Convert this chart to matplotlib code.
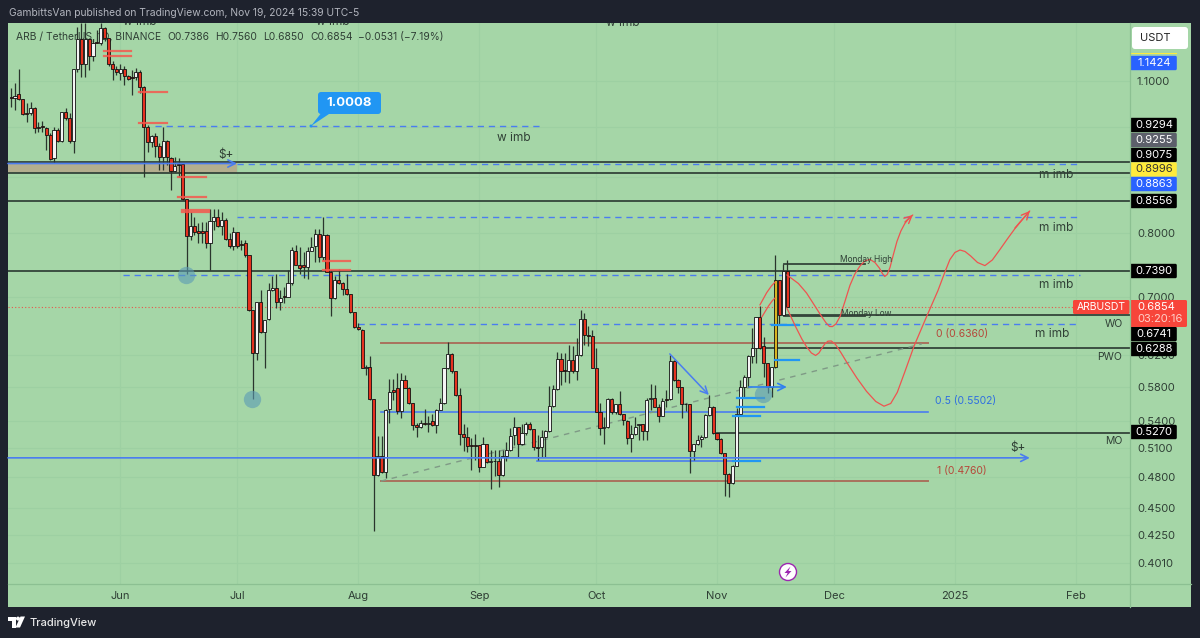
import numpy as np
import matplotlib
matplotlib.use("Agg")
import matplotlib.pyplot as plt
from matplotlib.patches import Rectangle, FancyBboxPatch, Polygon, Circle
from matplotlib.path import Path

plt.rcParams['font.family'] = ['Inter', 'DejaVu Sans']

# Daily candles, last one is Nov 19 2024
opens = [1.063,1.061,1.070,1.059,1.029,1.029,1.039,.999,1.001,.996,
         .982,.936,.992,.971,1.031,1.018,.971,1.127,1.200,1.141,
         1.200,1.158,1.193,1.190,1.228,1.204,1.141,1.127,1.118,1.129,
         1.111,1.109,1.109,1.122,1.087,.999,.968,.980,.960,.938,
         .971,.936,.911,.924,.924,.860,.795,.812,.803,.803,
         .803,.784,.820,.827,.812,.822,.791,.778,.802,.782,
         .783,.764,.681,.622,.692,.650,.668,.710,.713,.692,
         .702,.700,.721,.770,.748,.748,.745,.770,.778,.799,
         .761,.797,.738,.698,.725,.721,.711,.704,.678,.657,
         .653,.603,.605,.565,.482,.502,.485,.554,.576,.578,
         .551,.588,.579,.561,.535,.533,.538,.537,.540,.535,
         .553,.561,.603,.621,.599,.570,.525,.522,.513,.513,
         .513,.490,.515,.495,.496,.497,.482,.502,.508,.524,
         .533,.515,.526,.536,.531,.511,.511,.522,.529,.557,
         .577,.615,.601,.599,.613,.599,.620,.668,.647,.645,
         .603,.550,.532,.533,.565,.550,.559,.548,.540,.521,
         .525,.535,.537,.529,.565,.566,.556,.546,.565,.565,
         .612,.588,.580,.560,.560,.507,.514,.520,.522,.547,
         .556,.526,.520,.505,.483,.474,.491,.548,.580,.592,
         .618,.629,.671,.631,.610,.580,.605,.7245,.674,.7386]
highs = [1.083,1.096,1.129,1.059,1.050,1.052,1.041,1.010,1.012,.999,
         .986,.999,.996,1.031,1.039,1.029,1.127,1.232,1.242,1.242,
         1.204,1.202,1.224,1.242,1.232,1.204,1.146,1.134,1.141,1.134,
         1.114,1.125,1.131,1.125,1.089,1.003,.982,.986,.966,.999,
         .973,.938,.938,.936,.926,.860,.836,.827,.817,.819,
         .819,.841,.841,.841,.836,.825,.800,.810,.802,.789,
         .789,.764,.681,.692,.710,.667,.721,.732,.735,.710,
         .714,.740,.777,.780,.777,.769,.777,.794,.807,.807,
         .827,.799,.740,.732,.742,.722,.735,.704,.678,.663,
         .654,.607,.618,.565,.523,.523,.554,.590,.590,.597,
         .597,.594,.580,.561,.538,.541,.554,.546,.548,.554,
         .567,.603,.637,.622,.599,.578,.537,.533,.521,.525,
         .513,.522,.515,.508,.508,.508,.508,.517,.532,.544,
         .533,.537,.539,.539,.531,.524,.530,.530,.581,.582,
         .624,.622,.622,.633,.632,.642,.681,.677,.659,.653,
         .629,.561,.544,.567,.567,.560,.575,.548,.541,.535,
         .544,.537,.537,.566,.583,.582,.560,.567,.576,.620,
         .613,.589,.580,.561,.560,.515,.524,.524,.548,.570,
         .557,.527,.521,.505,.484,.492,.555,.588,.594,.620,
         .656,.671,.687,.644,.610,.605,.764,.7245,.750,.7560]
lows = [1.041,1.035,1.057,1.024,1.009,1.024,.986,.988,.988,.952,
        .932,.926,.968,.968,1.014,.966,.946,1.122,1.109,1.109,
        1.125,1.148,1.190,1.187,1.197,1.136,1.102,1.114,1.102,1.091,
        1.102,1.068,1.102,1.072,.899,.948,.958,.938,.913,.913,
        .922,.876,.909,.899,.858,.735,.789,.797,.784,.784,
        .776,.740,.805,.810,.797,.789,.776,.772,.776,.772,
        .761,.679,.565,.614,.649,.603,.667,.708,.684,.681,
        .691,.700,.717,.748,.735,.728,.727,.770,.753,.753,
        .756,.737,.673,.697,.719,.703,.703,.677,.656,.653,
        .603,.594,.564,.429,.481,.484,.479,.538,.564,.548,
        .543,.578,.560,.530,.522,.532,.535,.528,.534,.527,
        .552,.560,.602,.597,.569,.513,.507,.506,.487,.498,
        .485,.490,.494,.468,.481,.470,.481,.496,.507,.513,
        .501,.513,.524,.530,.508,.498,.501,.501,.528,.556,
        .576,.582,.586,.584,.597,.588,.619,.633,.632,.603,
        .550,.524,.515,.532,.548,.548,.547,.535,.515,.506,
        .524,.519,.519,.519,.552,.556,.539,.545,.556,.564,
        .587,.572,.543,.551,.484,.498,.513,.511,.521,.546,
        .525,.519,.504,.461,.460,.473,.491,.546,.567,.580,
        .609,.609,.628,.592,.572,.568,.603,.660,.674,.6850]
closes = [1.061,1.065,1.059,1.026,1.026,1.039,.996,.996,.999,.982,
          .934,.992,.971,1.031,1.018,.971,1.127,1.200,1.141,1.200,
          1.158,1.190,1.190,1.228,1.204,1.141,1.127,1.120,1.129,1.111,
          1.104,1.107,1.122,1.087,.999,.968,.980,.960,.938,.971,
          .938,.911,.920,.922,.860,.795,.812,.802,.801,.801,
          .784,.820,.827,.812,.822,.791,.778,.802,.778,.780,
          .764,.681,.622,.692,.650,.667,.710,.713,.692,.699,
          .700,.721,.772,.748,.743,.746,.770,.777,.799,.761,
          .797,.738,.698,.725,.721,.711,.704,.678,.657,.654,
          .603,.605,.565,.482,.502,.485,.553,.574,.574,.551,
          .588,.578,.561,.535,.533,.538,.537,.538,.535,.552,
          .561,.603,.621,.599,.570,.525,.522,.512,.512,.512,
          .490,.515,.495,.496,.497,.482,.502,.508,.523,.533,
          .515,.526,.536,.531,.511,.510,.522,.529,.557,.577,
          .615,.600,.600,.613,.599,.620,.668,.647,.645,.603,
          .550,.532,.533,.565,.550,.559,.548,.541,.521,.525,
          .533,.536,.529,.564,.566,.556,.546,.563,.564,.612,
          .588,.580,.559,.559,.507,.514,.519,.522,.547,.556,
          .526,.520,.505,.483,.474,.491,.548,.580,.592,.618,
          .629,.671,.629,.610,.580,.605,.7245,.674,.7386,.6854]
first_day = -28          # days relative to Jun 1
yellow_day = 168

month_days = [0, 30, 61, 92, 122, 153, 183, 214, 245]
month_labels = ['Jun', 'Jul', 'Aug', 'Sep', 'Oct', 'Nov', 'Dec', '2025', 'Feb']
price_ticks = [1.1, 1.0, 0.9, 0.8, 0.7, 0.62, 0.58, 0.54, 0.51, 0.48, 0.45, 0.425, 0.401]
price_labels = ['1.1000', '', '', '0.8000', '0.7000', '0.6200', '0.5800', '0.5400',
                '0.5100', '0.4800', '0.4500', '0.4250', '0.4010']

# horizontal levels: price, start day, end day
day_left, day_right = -28.8, 258.9
dark_levels = [(.9294, day_left, day_right), (.9075, day_left, day_right),
               (.8556, day_left, day_right), (.7390, day_left, day_right),
               (.6741, 170.1, day_right), (.6288, 164.8, day_right), (.5270, 153, day_right),
               (.750, 170.1, 190.9), (.672, 170.1, 190.9)]
dashed_levels = [(1.0008, 8.9, 107.6), (.9255, 29.9, 246), (.8275, 29.9, 246),
                 (.733, 0.7, 246), (.662, 60.9, 246)]
fib_levels = [(.6360, 66.8, 207.1), (.4760, 66.8, 207.1)]
blue_levels = [(.5502, 66.8, 207.1), (.4969, 106.8, 164)]
blue_arrows = [(.9255, day_left, 29.9), (.4998, day_left, 233.2)]
red_marks = [(1.171, -4.2, 2.7), (1.158, -4.2, 2.7), (1.075, 4.8, 11.9), (1.008, 4.8, 11.9),
             (.900, 14.8, 21.9), (.862, 14.8, 21.9), (.840, 15.8, 22.7), (.836, 15.8, 22.7),
             (.755, 52, 58.9), (.741, 52, 58.9)]
short_blue = [(.660, 167, 174), (.6135, 168, 174), (.5666, 158, 165), (.556, 158, 165),
              (.5456, 157, 164), (.4965, 157, 164)]
circle_days = [16.8, 33.7, 164.8]
circle_prices = [.7335, .5655, .5713]

# hand drawn projection paths
path_a_days = [170.9, 174.3, 177.6, 181.2, 182.5, 184.5, 187.1, 189.6, 192.2, 194.8, 196, 197.3, 199.1, 201.2, 203.2]
path_a_prices = [.733, .7207, .6913, .660, .656, .667, .7207, .7484, .761, .7437, .7268, .7406, .7886, .8189, .831]
path_b_days = [170.9, 173.5, 176, 178.4, 179.9, 181.4, 183.2, 186.3, 191.4, 196, 199.1, 203.2, 210.2, 212.7,
               215.3, 217.9, 221.7, 225.5, 229.4, 233.2]
path_b_prices = [.684, .6532, .6291, .616, .6291, .6397, .637, .6097, .5725, .5525, .5677, .6304, .7147, .761,
                 .7755, .7642, .7406, .7723, .8086, .838]
arc_c_days = [164, 166, 167.9]
arc_c_prices = [.6883, .7103, .7222]
arc_d_days = [164.5, 166.6, 167.9]
arc_d_prices = [.6712, .6913, .6985]

GREEN = '#a5d6a7'
DARK = '#1e222d'
LINE = '#33443a'
TXT = '#2f3f35'
BLUE = '#2962ff'
LBLUE = '#4a7df0'
RED = '#ef5350'
W, H = 1200, 638


def smooth_curve(ax, days, prices, color, lw=0.9):
    # quadratic segments through the midpoints, keeps the drawn look
    xs, ys = np.array(days, float), np.log(np.array(prices, float))
    verts = [(xs[0], ys[0])]
    codes = [Path.MOVETO]
    for i in range(1, len(xs) - 1):
        verts += [(xs[i], ys[i]), ((xs[i] + xs[i + 1]) / 2, (ys[i] + ys[i + 1]) / 2)]
        codes += [Path.CURVE3, Path.CURVE3]
    verts.append((xs[-1], ys[-1]))
    codes.append(Path.LINETO)
    # bezier control points stay straight only in log space, so flatten it there
    poly = Path(verts, codes).to_polygons(closed_only=False)[0]
    ax.plot(poly[:, 0], np.exp(poly[:, 1]), color=color, lw=lw, zorder=4, solid_capstyle='round')


def arrow(ax, x0, y0, x1, y1, color, lw=1.0, size=13):
    ax.annotate('', xy=(x1, y1), xytext=(x0, y0), zorder=4,
                arrowprops=dict(arrowstyle='->', color=color, lw=lw, mutation_scale=size,
                                shrinkA=0, shrinkB=0))


fig = plt.figure(figsize=(W / 100, H / 100), dpi=100, facecolor=DARK)
fig.add_artist(Rectangle((8 / W, 1 - 607 / H), (1191 - 8) / W, (607 - 23) / H, transform=fig.transFigure,
                         facecolor=GREEN, edgecolor='none', zorder=-1))
ax = fig.add_axes([8 / W, 1 - 584 / H, (1130 - 8) / W, (584 - 23) / H], facecolor='none')
ov = fig.add_axes([0, 0, 1, 1], facecolor='none', zorder=5)
ov.set_xlim(0, W)
ov.set_ylim(H, 0)
ov.axis('off')

ax.set_yscale('log')
ax.set_ylim(0.3838, 1.242)
ax.set_xlim(day_left, day_right)
ax.minorticks_off()
ax.yaxis.tick_right()
ax.set_yticks(price_ticks)
ax.set_yticklabels(price_labels)
ax.set_xticks(month_days)
ax.set_xticklabels(month_labels)
ax.tick_params(axis='both', which='both', length=0, labelsize=8, labelcolor=TXT)
ax.tick_params(axis='y', pad=5)
ax.tick_params(axis='x', pad=5)
ax.grid(True, color='#9dd0a2', lw=0.8)
ax.set_axisbelow(True)
for s in ax.spines.values():
    s.set_visible(False)

# levels
for p, a, b in dashed_levels:
    ax.plot([a, b], [p, p], color=LBLUE, lw=1.0, dashes=(4.5, 3.5), zorder=1.5)
for p, a, b in dark_levels:
    ax.plot([a, b], [p, p], color=LINE, lw=1.3, zorder=1.6)
ax.fill_between([day_left, 29.9], .9075, .9294, color='#b5aa8c', alpha=0.9, lw=0, zorder=1.2)
for p, a, b in fib_levels:
    ax.plot([a, b], [p, p], color='#a9725c', lw=1.4, zorder=1.6)
for p, a, b in blue_levels:
    ax.plot([a, b], [p, p], color=LBLUE, lw=1.2, zorder=1.6)
for p, a, b in blue_arrows:
    arrow(ax, a, p, b, p, LBLUE, lw=1.2)
ax.plot([66.8, 205.5], [.476, .6344], color='#7f9a86', lw=1.0, dashes=(4, 4), zorder=1.7)

# candles
days = np.arange(first_day, first_day + len(opens))
o, h, l, c = map(np.array, (opens, highs, lows, closes))
ax.vlines(days, l, h, color='#2a352d', lw=0.9, zorder=2)
colors = ['#e5321f' if ci < oi else '#f4f4f4' for oi, ci in zip(o, c)]
colors[yellow_day - first_day] = '#d8b522'
ax.bar(days, np.abs(c - o), bottom=np.minimum(o, c), width=0.8, color=colors, edgecolor='#111111',
       linewidth=0.6, zorder=3)

for p, a, b in red_marks:
    ax.plot([a, b], [p, p], color='#f4584e', lw=1.6, alpha=0.85, zorder=3.5)
for p, a, b in short_blue:
    ax.plot([a, b], [p, p], color='#2196f3', lw=1.6, zorder=3.5)
arrow(ax, 161.2, .5797, 170.9, .5797, '#2f80f0', lw=1.2)
arrow(ax, 140.9, .6213, 150.9, .5701, LBLUE, lw=1.1)
ax.plot(circle_days, circle_prices, 'o', ms=12.5, color='#5b9bb5', alpha=0.6, mew=0, zorder=3.6)

smooth_curve(ax, path_a_days, path_a_prices, RED)
smooth_curve(ax, path_b_days, path_b_prices, RED)
smooth_curve(ax, arc_c_days, arc_c_prices, RED)
smooth_curve(ax, arc_d_days, arc_d_prices, RED)
arrow(ax, path_a_days[-2], path_a_prices[-2], path_a_days[-1], path_a_prices[-1], RED)
arrow(ax, path_b_days[-2], path_b_prices[-2], path_b_days[-1], path_b_prices[-1], RED)

# last price dotted
ax.plot([day_left, 244.8], [.6854, .6854], color='#e8584a', lw=0.8, ls=(0, (1, 2)), zorder=1.5)

# text under the candles
ax.text(16, 37, 'ARB / TetherUS, 1D, BINANCE', transform=ov.transData, fontsize=7.4, color=TXT, va='center', zorder=1)
for tx, s in [(167, 'O0.7386'), (215, 'H0.7560'), (263, 'L0.6850'), (310, 'C0.6854'),
              (358, '\u22120.0531 (\u22127.19%)')]:
    ax.text(tx, 37, s, transform=ov.transData, fontsize=7.4, color=TXT, va='center', zorder=1)
for tx, ty, s in [(140, 22, 'w imb'), (333, 22, 'w imb'), (623, 23, 'w imb')]:
    ax.text(tx, ty, s, transform=ov.transData, fontsize=8.5, color=TXT, ha='center', va='center', clip_on=True, zorder=1)

# chart labels
for tx, ty, s in [(514, 138, 'w imb'), (1056, 175, 'm imb'), (1056, 228, 'm imb'), (1056, 285, 'm imb'),
                  (1052, 334, 'm imb'), (226, 155, '$+'), (1018, 448, '$+')]:
    ov.text(tx, ty, s, fontsize=8.5, color=TXT, ha='center', va='center')
for tx, ty, s in [(1114, 324, 'WO'), (1110, 357, 'PWO'), (1114, 441, 'MO')]:
    ov.text(tx, ty, s, fontsize=7.5, color=TXT, ha='center', va='center')
ov.text(866, 259, 'Monday High', fontsize=6, color=TXT, ha='center', va='center')
ov.text(866, 313, 'Monday Low', fontsize=6, color=TXT, ha='center', va='center')
ov.text(962, 333.5, '0 (0.6360)', fontsize=7.5, color='#b5483a', ha='center', va='center')
ov.text(966, 401, '0.5 (0.5502)', fontsize=7.5, color='#2f6fe0', ha='center', va='center')
ov.text(962, 471, '1 (0.4760)', fontsize=7.5, color='#b5483a', ha='center', va='center')

# callout
ov.add_patch(Polygon([(311, 126), (322, 112), (332, 112)], facecolor='#2196f3', edgecolor='none'))
ov.add_patch(FancyBboxPatch((320, 94), 59, 18, boxstyle='round,pad=2,rounding_size=3', facecolor='#2196f3', edgecolor='none'))
ov.add_patch(Circle((311, 126), 1.5, facecolor='#2196f3', edgecolor='none'))
ov.text(349.5, 102.5, '1.0008', fontsize=9.5, color='white', fontweight='bold', ha='center', va='center')

# price axis + time axis lines
ov.plot([1129.5, 1129.5], [23, 607], color='#8cc092', lw=0.9)
ov.plot([8, 1191], [583.5, 583.5], color='#8cc092', lw=0.9)

# price tags
tags = [(63, '1.1424', BLUE, 'white'), (125, '0.9294', 'black', 'white'), (140, '0.9255', '#5d606b', 'white'),
        (155, '0.9075', 'black', 'white'), (169.5, '0.8996', '#ffeb3b', '#333333'), (184, '0.8863', BLUE, 'white'),
        (201, '0.8556', 'black', 'white'), (271, '0.7390', 'black', 'white'), (334, '0.6741', 'black', 'white'),
        (349, '0.6288', 'black', 'white'), (432, '0.5270', 'black', 'white')]
for ty, s, face, col in tags:
    ov.add_patch(FancyBboxPatch((1131, ty - 6.4), 45, 12.8, boxstyle='round,pad=0.8,rounding_size=1.5',
                                facecolor=face, edgecolor='none'))
    ov.text(1154, ty, s, fontsize=8, color=col, ha='center', va='center')
ov.add_patch(Rectangle((1130, 53), 47, 1.4, facecolor='#ffeb3b', edgecolor='none'))

ov.add_patch(FancyBboxPatch((1074, 301), 54.5, 12, boxstyle='round,pad=1,rounding_size=1.5', facecolor='#f7453a', edgecolor='none'))
ov.text(1101, 307, 'ARBUSDT', fontsize=7.5, color='white', ha='center', va='center')
ov.add_patch(FancyBboxPatch((1131, 301), 55, 25, boxstyle='round,pad=1,rounding_size=1.5', facecolor='#f7453a', edgecolor='none'))
ov.text(1137, 307, '0.6854', fontsize=8, color='white', ha='left', va='center')
ov.text(1137, 319, '03:20:16', fontsize=8, color='#ffd0c8', ha='left', va='center')

ov.add_patch(FancyBboxPatch((1134, 29), 52, 18, boxstyle='round,pad=2,rounding_size=3', facecolor='white', edgecolor='none'))
ov.text(1140, 38, 'USDT', fontsize=8, color='#222222', ha='left', va='center')

# lightning badge
ov.add_patch(Circle((788, 572), 8.5, facecolor='white', edgecolor='#9c27b0', lw=1.0))
ov.add_patch(Polygon([(790.5, 566.5), (784.5, 573), (787.6, 573), (785.5, 577.5), (791.5, 571), (788.4, 571)],
                     facecolor='#9c27b0', edgecolor='none'))

# header and footer
ov.add_patch(Rectangle((0, 0), W, 23, facecolor=DARK, edgecolor='none', zorder=0.5))
ov.text(9, 13, 'GambittsVan published on TradingView.com, Nov 19, 2024 15:39 UTC-5', fontsize=7.4, color='#b2b5be', va='center')
ov.add_patch(Polygon([(8, 616.5), (15.5, 616.5), (15.5, 627.5), (11.5, 627.5), (11.5, 620.5), (8, 620.5)], facecolor='white', edgecolor='none'))
ov.add_patch(Circle((18, 618.6), 2, facecolor='white', edgecolor='none'))
ov.add_patch(Polygon([(20.5, 616.5), (25, 616.5), (20, 627.5), (15.5, 627.5)], facecolor='white', edgecolor='none'))
ov.text(29, 622.5, 'TradingView', fontsize=8, color='#e8e8e8', fontweight='medium', va='center')

fig.savefig('out.png', dpi=100, facecolor=DARK)
